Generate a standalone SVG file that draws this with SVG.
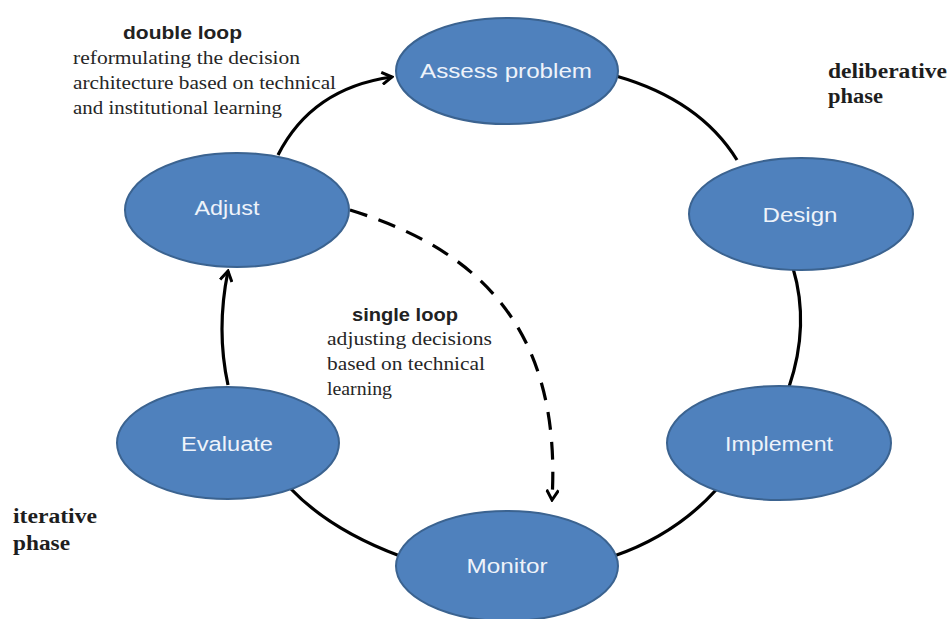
<svg xmlns="http://www.w3.org/2000/svg" width="950" height="619" viewBox="0 0 950 619">
<defs>
<style>
.node ellipse{fill:#4f81bd;stroke:#3b6390;stroke-width:2}
.node text{font-family:"Liberation Sans",Arial,sans-serif;font-size:20px;fill:#eef3fa;text-anchor:middle}
.conn path{fill:none;stroke:#000;stroke-width:3.2}
.dash{stroke-dasharray:18 12}
.hd{font-family:"Liberation Sans",Arial,sans-serif;font-weight:bold;font-size:18px;fill:#222}
.ann{font-family:"Liberation Serif","Times New Roman",serif;font-size:18.5px;fill:#262626}
.ph{font-family:"Liberation Serif","Times New Roman",serif;font-weight:bold;font-size:20px;fill:#1e1e1e}
</style>
<marker id="arr" viewBox="0 0 14 14" refX="12" refY="7" markerWidth="14" markerHeight="14" markerUnits="userSpaceOnUse" orient="auto">
<polyline points="2,1 12,7 2,13" fill="none" stroke="#000" stroke-width="3" stroke-linejoin="miter"/>
</marker>
</defs>
<rect width="950" height="619" fill="#fff"/>
<g class="conn" id="connectors">
<path d="M278,155 Q312,88 392,77" marker-end="url(#arr)"/>
<path d="M616,76 Q700,100 737,160"/>
<path d="M793,268 Q810,325 789,387"/>
<path d="M716,490 Q675,535 614,556"/>
<path d="M400,556 Q330,530 290,488"/>
<path d="M228,385 Q216,330 228,271" marker-end="url(#arr)"/>
<path class="dash" d="M350,210 C480,250 562,330 552,500" marker-end="url(#arr)"/>
</g>
<g class="node" id="assess"><ellipse cx="507" cy="71" rx="111" ry="53"/><text x="506" y="78" textLength="172" lengthAdjust="spacingAndGlyphs">Assess problem</text></g>
<g class="node" id="design"><ellipse cx="801" cy="214" rx="112" ry="56"/><text x="800" y="222" textLength="75" lengthAdjust="spacingAndGlyphs">Design</text></g>
<g class="node" id="implement"><ellipse cx="779" cy="443" rx="112" ry="57"/><text x="779" y="451" textLength="108" lengthAdjust="spacingAndGlyphs">Implement</text></g>
<g class="node" id="monitor"><ellipse cx="507" cy="566" rx="111" ry="55"/><text x="507" y="573" textLength="81" lengthAdjust="spacingAndGlyphs">Monitor</text></g>
<g class="node" id="evaluate"><ellipse cx="228" cy="443" rx="111" ry="56"/><text x="227" y="451" textLength="92" lengthAdjust="spacingAndGlyphs">Evaluate</text></g>
<g class="node" id="adjust"><ellipse cx="237" cy="210" rx="112" ry="57"/><text x="227" y="215" textLength="65" lengthAdjust="spacingAndGlyphs">Adjust</text></g>
<g id="double-loop">
<text class="hd" x="123" y="39" textLength="119" lengthAdjust="spacingAndGlyphs">double  loop</text>
<text class="ann" x="73" y="64" textLength="227" lengthAdjust="spacingAndGlyphs">reformulating  the decision</text>
<text class="ann" x="73" y="89" textLength="263" lengthAdjust="spacingAndGlyphs">architecture  based on technical</text>
<text class="ann" x="73" y="114" textLength="209" lengthAdjust="spacingAndGlyphs">and institutional  learning</text>
</g>
<g id="single-loop">
<text class="hd" x="352" y="321" textLength="106" lengthAdjust="spacingAndGlyphs">single loop</text>
<text class="ann" x="327" y="345" textLength="165" lengthAdjust="spacingAndGlyphs">adjusting  decisions</text>
<text class="ann" x="327" y="370" textLength="158" lengthAdjust="spacingAndGlyphs">based on technical</text>
<text class="ann" x="327" y="395" textLength="65" lengthAdjust="spacingAndGlyphs">learning</text>
</g>
<g id="phases">
<text class="ph" x="828" y="78" textLength="119" lengthAdjust="spacingAndGlyphs">deliberative</text>
<text class="ph" x="828" y="103" textLength="55" lengthAdjust="spacingAndGlyphs">phase</text>
<text class="ph" x="13" y="523" textLength="84" lengthAdjust="spacingAndGlyphs">iterative</text>
<text class="ph" x="13" y="550" textLength="57" lengthAdjust="spacingAndGlyphs">phase</text>
</g>
</svg>
